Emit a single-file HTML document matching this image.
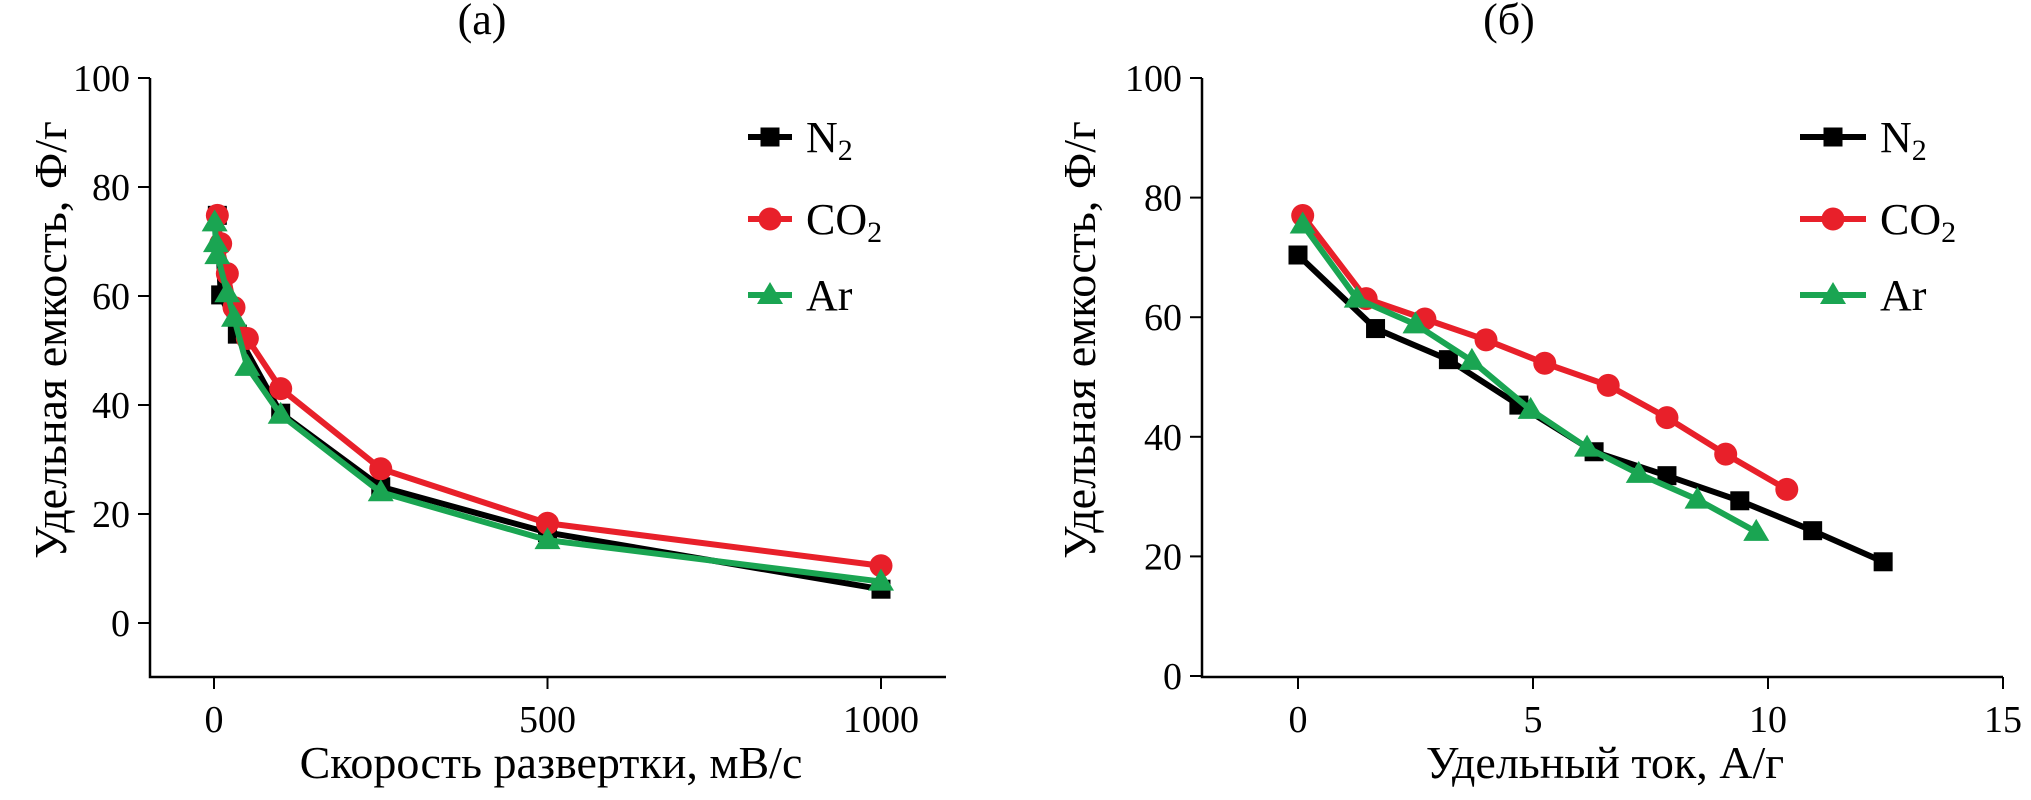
<!DOCTYPE html>
<html><head><meta charset="utf-8"><style>
body{margin:0;background:#fff;width:2031px;height:795px;overflow:hidden}
svg text, svg tspan{font-family:"Liberation Serif","Times New Roman",serif !important;fill:#000}
</style></head><body>
<svg id="chart" width="2031" height="795" xmlns="http://www.w3.org/2000/svg" font-family="Liberation Serif, serif"></svg>
<script>
const seriesNames=["N2","CO2","Ar"];
const aN2x=[5,10,35,100,250,500,1000];
const aN2y=[74.8,60.2,53,38.5,25,16.6,6.2];
const aCO2x=[5,10,20,30,50,100,250,500,1000];
const aCO2y=[74.8,69.6,64.1,57.9,52.2,43,28.3,18.3,10.5];
const aArx=[1,3,5,20,30,50,100,250,500,1000];
const aAry=[73.5,69.7,67.5,60.5,56,47,38.2,24,15.2,7.6];
const bN2x=[0,1.65,3.2,4.7,6.3,7.85,9.4,10.95,12.45];
const bN2y=[70.4,58.1,52.9,45.3,37.5,33.5,29.3,24.3,19.1];
const bCO2x=[0.1,1.45,2.7,4,5.25,6.6,7.85,9.1,10.4];
const bCO2y=[77,63.1,59.7,56.2,52.3,48.6,43.2,37.1,31.2];
const bArx=[0.1,1.25,2.5,3.7,4.95,6.15,7.25,8.5,9.75];
const bAry=[75.5,63.1,58.8,52.7,44.5,38.2,33.8,29.5,24.1];
const aXticks=[0,500,1000];
const bXticks=[0,5,10,15];
const aYticks=[0,20,40,60,80,100];
const bYticks=[0,20,40,60,80,100];

const NS="http://www.w3.org/2000/svg";
const svg=document.getElementById('chart');
const FF="Liberation Serif, Times New Roman, serif";
function mk(tag,attrs,parent){const e=document.createElementNS(NS,tag);for(const k in attrs)e.setAttribute(k,attrs[k]);if(tag==='text'){e.setAttribute('font-family',FF);e.style.fontFamily='"Liberation Serif", serif';}(parent||svg).appendChild(e);return e;}
const colors={N2:"#000",CO2:"#e8202a",Ar:"#1aa552"};

function marker(g,type,x,y){
  let m;
  if(type==="N2")m=mk('rect',{x:x-9.5,y:y-9.5,width:19,height:19,fill:colors.N2},g);
  else if(type==="CO2")m=mk('circle',{cx:x,cy:y,r:11.5,fill:colors.CO2},g);
  else m=mk('polygon',{points:`${x},${y-13} ${x-13},${y+9} ${x+13},${y+9}`,fill:colors.Ar},g);
  
  
}

function panel(p){
  const g=mk('g',{});
  
  
  const X=v=>p.x0+(v-p.xmin)*(p.x1-p.x0)/(p.xmax-p.xmin);
  const Y=v=>p.y0-(v-p.ymin)*(p.y0-p.y1)/(p.ymax-p.ymin);
  const ax=mk('path',{d:`M${p.ax} ${p.atop} V${p.abot} H${p.aright}`,stroke:'#000','stroke-width':2.5,fill:'none'},g);
  
  
  p.yt.forEach(v=>{
    mk('line',{x1:p.ax-12,x2:p.ax,y1:Y(v),y2:Y(v),stroke:'#000','stroke-width':2},g);
    const t=mk('text',{x:p.ax-20,y:Y(v)+13,'font-size':38,'text-anchor':'end'},g);
    t.textContent=v;
    
    
  });
  p.xt.forEach(v=>{
    mk('line',{x1:X(v),x2:X(v),y1:p.abot,y2:p.abot+12,stroke:'#000','stroke-width':2},g);
    const t=mk('text',{x:X(v),y:p.abot+55,'font-size':38,'text-anchor':'middle'},g);
    t.textContent=v;
    
    
  });
  const xt=mk('text',{x:p.xtx,y:778,'font-size':46,'text-anchor':'middle'},g);
  xt.textContent=p.xtitle;
  
  
  const yt=mk('text',{x:0,y:0,'font-size':46,'text-anchor':'middle',transform:`translate(${p.ytx},340) rotate(-90)`},g);
  yt.textContent="Удельная емкость, Ф/г";
  
  
  const tt=mk('text',{x:p.ttx,y:34,'font-size':44,'text-anchor':'middle'},g);
  tt.textContent=p.title;
  
  
  const order=["N2","CO2","Ar"];
  order.forEach(s=>{
    const xs=p.data[s][0],ys=p.data[s][1];
    const pl=mk('polyline',{points:xs.map((v,i)=>X(v)+','+Y(ys[i])).join(' '),fill:'none',stroke:colors[s],'stroke-width':6,'stroke-linejoin':'round'},g);
    
    
    xs.forEach((v,i)=>marker(g,s,X(v),Y(ys[i])));
  });
  const rows=[137,219,295];
  order.forEach((s,i)=>{
    const lg=mk('g',{},g);
    
    
    mk('line',{x1:p.lx,x2:p.lx+p.lw,y1:rows[i],y2:rows[i],stroke:colors[s],'stroke-width':6},lg);
    marker(lg,s,p.lx+p.lw/2,rows[i]);
    const t=mk('text',{x:p.lx+p.lw+14,y:rows[i]+15,'font-size':44},lg);
    if(s==="Ar")t.textContent="Ar";
    else{t.textContent=s==="N2"?"N":"CO";const sub=mk('tspan',{'font-size':30,dy:8},t);sub.textContent="2";}
  });
}
panel({id:'a',x0:214,x1:881,xmin:0,xmax:1000,y0:623,y1:78,ymin:0,ymax:100,
  ax:150,atop:78,abot:677,aright:946,yt:aYticks,xt:aXticks,
  xtitle:"Скорость развертки, мВ/с",xtx:551,ytx:66,title:"(a)",ttx:482,lx:748,lw:44,
  data:{N2:[aN2x,aN2y],CO2:[aCO2x,aCO2y],Ar:[aArx,aAry]}});
panel({id:'b',x0:1298,x1:2003,xmin:0,xmax:15,y0:676,y1:78,ymin:0,ymax:100,
  ax:1202,atop:78,abot:677,aright:2003,yt:bYticks,xt:bXticks,
  xtitle:"Удельный ток, А/г",xtx:1605,ytx:1095,title:"(б)",ttx:1509,lx:1800,lw:66,
  data:{N2:[bN2x,bN2y],CO2:[bCO2x,bCO2y],Ar:[bArx,bAry]}});
</script>
</body></html>
